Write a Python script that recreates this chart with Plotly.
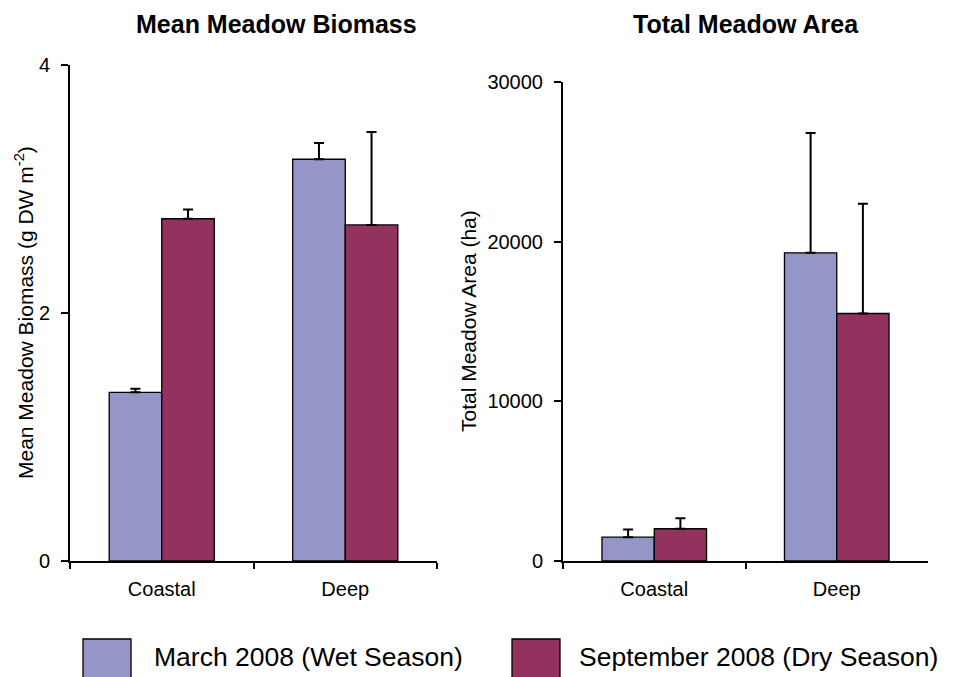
import plotly.graph_objects as go

# Site categories and seasonal series
sites = ["Coastal", "Deep"]
series_names = ["March 2008 (Wet Season)", "September 2008 (Dry Season)"]
series_colors = ["#9595C8", "#93325E"]

# Mean meadow biomass (g DW m-2) with upper error
biomass_march = [1.36, 3.24]
biomass_march_err = [0.03, 0.13]
biomass_sept = [2.76, 2.71]
biomass_sept_err = [0.075, 0.75]
biomass_ticks = [0, 2, 4]

# Total meadow area (ha) with upper error
area_march = [1490, 19300]
area_march_err = [480, 7500]
area_sept = [2020, 15500]
area_sept_err = [660, 6870]
area_ticks = [0, 10000, 20000, 30000]

W, H = 954, 677
FONT = "Liberation Sans, Arial, sans-serif"


def px(x):
    return x / W


def py(y):
    return 1 - y / H


def err(values):
    return dict(type="data", array=values, arrayminus=[0] * len(values),
                symmetric=False, color="black", thickness=2, width=5)


fig = go.Figure()

panels = [
    ("x", "y", [biomass_march, biomass_sept], [biomass_march_err, biomass_sept_err]),
    ("x2", "y2", [area_march, area_sept], [area_march_err, area_sept_err]),
]
for xa, ya, vals, errs in panels:
    for name, color, v, e in zip(series_names, series_colors, vals, errs):
        fig.add_trace(go.Bar(
            x=sites, y=v, name=name, xaxis=xa, yaxis=ya,
            marker=dict(color=color, line=dict(color="black", width=1.3)),
            error_y=err(e), showlegend=False,
        ))

common_x = dict(type="category", range=[-0.5, 1.5], showline=True, linecolor="black",
                linewidth=2, ticks="outside", tickson="boundaries", ticklen=6,
                tickwidth=2, tickcolor="black", showgrid=False, zeroline=False,
                tickfont=dict(family=FONT, size=20, color="black"),
                ticklabelstandoff=9, fixedrange=True, automargin=False)
common_y = dict(showline=True, linecolor="black", linewidth=2, ticks="outside",
                ticklen=7, tickwidth=2, tickcolor="black", showgrid=False,
                zeroline=False, tickfont=dict(family=FONT, size=20, color="black"),
                tickformat="d", ticklabelstandoff=7, fixedrange=True, automargin=False)

fig.update_layout(
    template="none",
    width=W, height=H, autosize=False,
    margin=dict(l=0, r=0, t=0, b=0, pad=0, autoexpand=False),
    paper_bgcolor="white", plot_bgcolor="white",
    barmode="group", bargap=0.427, bargroupgap=0,
    font=dict(family=FONT, color="black"),
    xaxis=dict(domain=[px(70), px(437)], anchor="y", **common_x),
    yaxis=dict(domain=[py(561), py(65)], anchor="x", range=[0, 4],
               tickvals=biomass_ticks, **common_y),
    xaxis2=dict(domain=[px(563), px(928)], anchor="y2", **common_x),
    yaxis2=dict(domain=[py(561), py(82)], anchor="x2", range=[0, 30000],
                tickvals=area_ticks, **common_y),
)

annotations = [
    dict(text="<b>Mean Meadow Biomass</b>", x=px(276), y=py(24), size=25),
    dict(text="<b>Total Meadow Area</b>", x=px(746), y=py(24), size=25),
]
for a in annotations:
    fig.add_annotation(text=a["text"], x=a["x"], y=a["y"], xref="paper", yref="paper",
                       xanchor="center", yanchor="middle", showarrow=False,
                       font=dict(family=FONT, size=a["size"], color="black"))

# Rotated axis titles
fig.add_annotation(text="Mean Meadow Biomass (g DW m<sup>-2</sup>)", textangle=-90,
                   x=px(24), y=py(313), xref="paper", yref="paper",
                   xanchor="center", yanchor="middle", showarrow=False,
                   font=dict(family=FONT, size=21, color="black"))
fig.add_annotation(text="Total Meadow Area (ha)", textangle=-90,
                   x=px(468), y=py(321), xref="paper", yref="paper",
                   xanchor="center", yanchor="middle", showarrow=False,
                   font=dict(family=FONT, size=21, color="black"))

# Legend: swatches and labels along the bottom
legend_items = [(83, 131, 152), (512, 560, 577)]
for (x0, x1, tx), name, color in zip(legend_items, series_names, series_colors):
    fig.add_shape(type="rect", xref="paper", yref="paper",
                  x0=px(x0), x1=px(x1), y0=py(639), y1=py(690),
                  fillcolor=color, line=dict(color="black", width=1.3))
    fig.add_annotation(text=name, x=px(tx), y=py(657), xref="paper", yref="paper",
                       xanchor="left", yanchor="middle", showarrow=False,
                       font=dict(family=FONT, size=26.5, color="black"))

fig.write_html("out.html")
